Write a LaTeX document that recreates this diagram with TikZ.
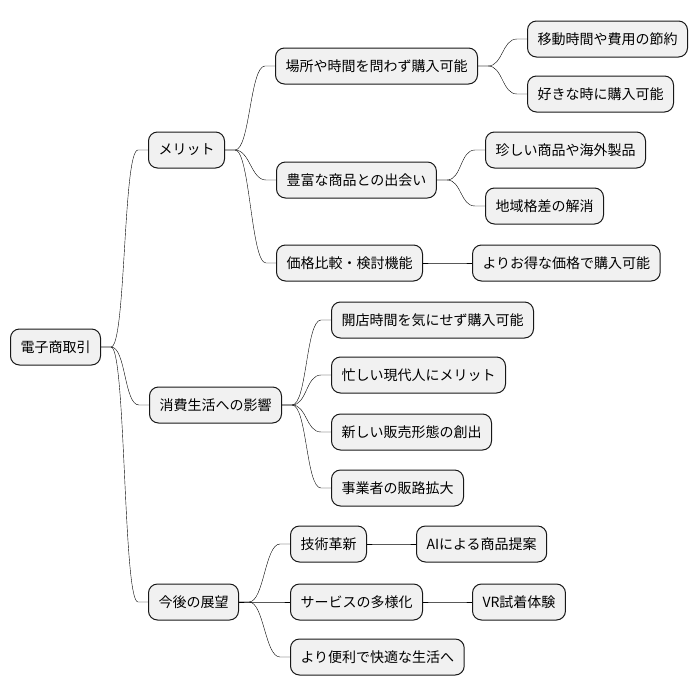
\documentclass[tikz,border=0pt]{standalone}
\usepackage{fontspec}
\setmainfont{Noto Sans CJK JP}
\usepackage{tikz}
\usetikzlibrary{shapes, arrows.meta, positioning, calc}
\definecolor{boxfill}{HTML}{F1F1F1}
\definecolor{boxline}{HTML}{181818}
\tikzstyle{topic} = [rectangle, rounded corners=9pt, minimum height=36pt, inner xsep=10pt, anchor=west, text centered, draw=boxline, fill=boxfill, line width=1pt, font=\fontsize{14pt}{16pt}\selectfont]
\tikzstyle{branch} = [draw=boxline, line width=0.8pt, to path={-- ++(10pt,0) .. controls +(15pt,0) and +(-15pt,0) .. ([xshift=-10pt]\tikztotarget) -- (\tikztotarget)}]

\begin{document}
\begin{tikzpicture}[x=1pt, y=-1pt]
\useasboundingbox (0,0) rectangle (698,696);
\node (root) [topic] at (10,347) {電子商取引};
\node (merit) [topic] at (148,150) {メリット};
\node (impact) [topic] at (149,405) {消費生活への影響};
\node (future) [topic] at (148,602) {今後の展望};
% メリット
\node (anywhere) [topic] at (275,66) {場所や時間を問わず購入可能};
\node (variety) [topic] at (276,180) {豊富な商品との出会い};
\node (compare) [topic] at (276,263) {価格比較・検討機能};
\node (saving) [topic] at (527,39) {移動時間や費用の節約};
\node (anytime) [topic] at (527,94) {好きな時に購入可能};
\node (rare) [topic] at (485,150) {珍しい商品や海外製品};
\node (region) [topic] at (485,206) {地域格差の解消};
\node (cheaper) [topic] at (472,263) {よりお得な価格で購入可能};
% 消費生活への影響
\node (open) [topic] at (331,320) {開店時間を気にせず購入可能};
\node (busy) [topic] at (331,375) {忙しい現代人にメリット};
\node (newform) [topic] at (331,432) {新しい販売形態の創出};
\node (channel) [topic] at (331,488) {事業者の販路拡大};
% 今後の展望
\node (tech) [topic] at (290,544) {技術革新};
\node (service) [topic] at (290,602) {サービスの多様化};
\node (better) [topic] at (290,657) {より便利で快適な生活へ};
\node (ai) [topic] at (416,544) {AIによる商品提案};
\node (vr) [topic] at (472,602) {VR試着体験};

\draw (root.east) to[branch] (merit.west);
\draw (root.east) to[branch] (impact.west);
\draw (root.east) to[branch] (future.west);
\draw (merit.east) to[branch] (anywhere.west);
\draw (merit.east) to[branch] (variety.west);
\draw (merit.east) to[branch] (compare.west);
\draw (anywhere.east) to[branch] (saving.west);
\draw (anywhere.east) to[branch] (anytime.west);
\draw (variety.east) to[branch] (rare.west);
\draw (variety.east) to[branch] (region.west);
\draw (compare.east) to[branch] (cheaper.west);
\draw (impact.east) to[branch] (open.west);
\draw (impact.east) to[branch] (busy.west);
\draw (impact.east) to[branch] (newform.west);
\draw (impact.east) to[branch] (channel.west);
\draw (future.east) to[branch] (tech.west);
\draw (future.east) to[branch] (service.west);
\draw (future.east) to[branch] (better.west);
\draw (tech.east) to[branch] (ai.west);
\draw (service.east) to[branch] (vr.west);
\end{tikzpicture}
\end{document}
